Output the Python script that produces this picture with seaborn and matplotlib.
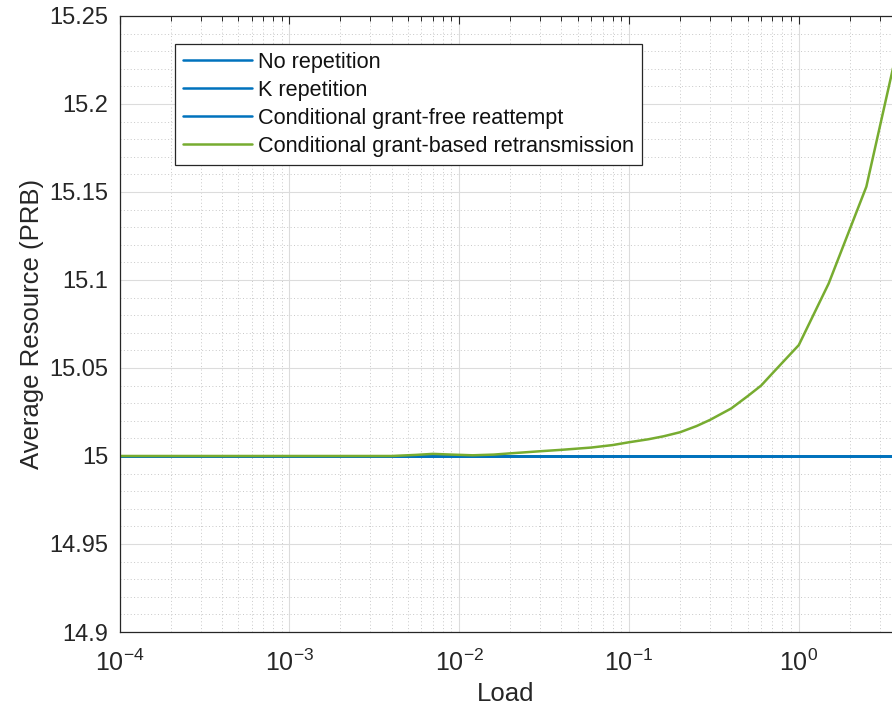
import matplotlib
matplotlib.use("Agg")
import matplotlib.pyplot as plt
import matplotlib.ticker as mticker
import numpy as np
import pandas as pd
import seaborn as sns

# ---- data ----
load = [1e-4, 2e-4, 5e-4, 1e-3, 2e-3, 4e-3, 5.5e-3, 7e-3, 9e-3, 0.012, 0.016,
        0.02, 0.03, 0.04, 0.06, 0.08, 0.1, 0.13, 0.16, 0.2, 0.25, 0.3, 0.4,
        0.5, 0.6, 0.7, 0.8, 1.0, 1.5, 2.5, 3.6]
no_rep = [15.0] * len(load)
k_rep = [15.0] * len(load)
cond_free = [15.0] * len(load)
cond_based = [15.0, 15.0, 15.0, 15.0, 15.0, 15.0, 15.0006, 15.0012, 15.0008,
              15.0004, 15.0008, 15.0015, 15.0027, 15.0035, 15.0048, 15.0062,
              15.0078, 15.0095, 15.0112, 15.0135, 15.017, 15.0205, 15.027,
              15.034, 15.040, 15.047, 15.053, 15.063, 15.098, 15.153, 15.221]
series_names = ["No repetition", "K repetition",
                "Conditional grant-free reattempt",
                "Conditional grant-based retransmission"]
series_values = [no_rep, k_rep, cond_free, cond_based]
yticks = [14.9, 14.95, 15.0, 15.05, 15.1, 15.15, 15.2, 15.25]
xticks = [1e-4, 1e-3, 1e-2, 1e-1, 1e0]

blue = "#0072BD"
green = "#77AC30"
palette = {series_names[0]: blue, series_names[1]: blue,
           series_names[2]: blue, series_names[3]: green}

df = pd.concat([pd.DataFrame({"Load": load, "value": v, "series": n})
                for n, v in zip(series_names, series_values)], ignore_index=True)

sns.set_theme(style="white")
plt.rcParams["font.family"] = ["Liberation Sans", "DejaVu Sans"]
plt.rcParams["mathtext.default"] = "regular"
plt.rcParams["axes.unicode_minus"] = False
txt = "#262626"

fig = plt.figure(figsize=(8.92, 7.13), dpi=100)
ax = fig.add_axes([0.134, 0.1136, 0.866, 0.864])

sns.lineplot(data=df, x="Load", y="value", hue="series", hue_order=series_names,
             palette=palette, estimator=None, sort=True, linewidth=1.8, ax=ax)

ax.set_xscale("log")
ax.set_xlim(1e-4, 10 ** 0.549)
ax.set_ylim(14.9, 15.25)
ax.set_xticks(xticks)
ax.xaxis.set_minor_locator(mticker.LogLocator(base=10, subs=np.arange(2, 10), numticks=20))
ax.xaxis.set_minor_formatter(mticker.NullFormatter())
ax.set_yticks(yticks)
ax.yaxis.set_major_formatter(mticker.FuncFormatter(lambda v, p: "%g" % round(v, 4)))
ax.yaxis.set_minor_locator(mticker.MultipleLocator(0.01))

ax.grid(True, which="major", color="#dcdcdc", linewidth=0.8, linestyle="-")
ax.grid(True, which="minor", color="#c8c8c8", linewidth=0.7, linestyle=(0, (1, 2.5)))
ax.set_axisbelow(True)

for s in ["left", "bottom", "top"]:
    ax.spines[s].set_visible(True)
    ax.spines[s].set_color(txt)
    ax.spines[s].set_linewidth(0.9)
ax.spines["right"].set_visible(False)

ax.tick_params(which="both", direction="in", top=True, right=False, colors=txt,
               labelcolor=txt)
ax.tick_params(which="major", length=6, width=0.8, labelsize=17)
ax.tick_params(axis="y", which="major", pad=8)
ax.tick_params(axis="x", which="major", pad=13, labelsize=18)
ax.tick_params(which="minor", length=3.5, width=0.7)

ax.set_xlabel("Load", fontsize=18.5, color=txt, labelpad=4)
ax.set_ylabel("Average Resource (PRB)", fontsize=18.5, color=txt, labelpad=4)

leg = ax.legend(loc="upper left", bbox_to_anchor=(0.0718, 0.9545), fontsize=15.6,
                frameon=True, fancybox=False, edgecolor=txt, framealpha=1,
                borderpad=0.35, labelspacing=0.33, handlelength=3.2,
                handletextpad=0.3, borderaxespad=0)
leg.get_frame().set_linewidth(0.9)
for t in leg.get_texts():
    t.set_color("#111111")

fig.savefig("out.png", dpi=100)
